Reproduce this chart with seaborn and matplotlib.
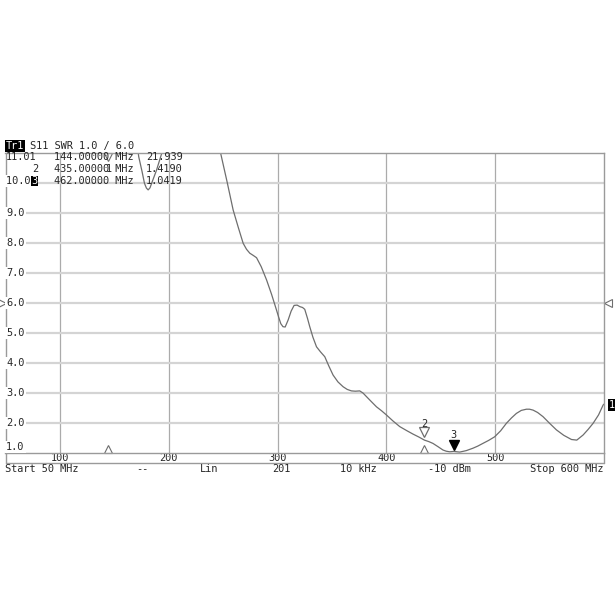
import matplotlib
matplotlib.use("Agg")
import matplotlib.pyplot as plt
import matplotlib.transforms as mtransforms
from matplotlib.lines import Line2D
import seaborn as sns
import pandas as pd

sns.set_style("white")
plt.rcParams['font.family'] = ['DejaVu Sans Mono', 'DejaVu Sans']

# S11 SWR trace (values above 11 are off-scale)
freq_mhz = [50, 100, 144, 165, 170, 172.4, 175.5, 177.7, 179.5, 181.1, 182.8, 184.8,
            188.8, 194, 200, 225, 247.6, 253.5, 259.2, 264.0, 268.4, 271.5, 274.5,
            277.5, 280.7, 285.0, 289.9, 294.5, 299.0, 301.0, 303.0, 305.0, 307.0,
            309.7, 312.5, 315.2, 318.0, 320.4, 323.0, 325.0, 327.5, 329.6, 332.5,
            335.8, 339.5, 343.4, 347.0, 351.0, 355.5, 360.2, 364.0, 367.9, 371.5,
            375.5, 378.5, 381.7, 386.0, 390.9, 395.5, 400.0, 406.0, 412.3, 418.5,
            424.5, 430.0, 435, 439.0, 442.8, 447.5, 452.0, 455.0, 458.2, 462,
            467.4, 473.5, 479.6, 484.0, 488.7, 494.0, 499.5, 505.0, 510.3, 515.0,
            519.5, 524.0, 528.7, 531.5, 534.8, 539.0, 544.0, 550.0, 556.3, 563.0,
            570.1, 575.0, 580.8, 585.5, 590.0, 595.0, 599.2, 600]
swr = [15.0, 18.0, 21.939, 14.0, 11.6, 10.87, 10.37, 9.98, 9.82, 9.76, 9.83, 10.03,
       10.42, 11.03, 12.5, 14.0, 11.0, 10.05, 9.09, 8.50, 7.98, 7.78, 7.65,
       7.58, 7.50, 7.20, 6.76, 6.28, 5.76, 5.52, 5.30, 5.20, 5.19,
       5.42, 5.72, 5.91, 5.92, 5.87, 5.84, 5.78, 5.48, 5.20, 4.85,
       4.53, 4.36, 4.20, 3.90, 3.59, 3.36, 3.20, 3.11, 3.06, 3.05,
       3.06, 2.99, 2.87, 2.71, 2.53, 2.40, 2.26, 2.06, 1.87, 1.74,
       1.62, 1.52, 1.419, 1.37, 1.31, 1.20, 1.09, 1.05, 1.03, 1.0419,
       1.02, 1.07, 1.15, 1.22, 1.31, 1.41, 1.53, 1.73, 1.98, 2.16,
       2.31, 2.41, 2.45, 2.45, 2.42, 2.34, 2.20, 1.98, 1.76, 1.58,
       1.44, 1.42, 1.59, 1.78, 1.98, 2.26, 2.59, 2.62]

marker_ids = ["1", "2", "3"]
marker_freq = [144.0, 435.0, 462.0]
marker_swr = [21.939, 1.4190, 1.0419]

x_ticks = [100, 200, 300, 400, 500]
y_grid = [2, 3, 4, 5, 6, 7, 8, 9, 10]
y_labels = ["9.0", "8.0", "7.0", "6.0", "5.0", "4.0", "3.0", "2.0", "1.0"]
status_labels = ["Start 50 MHz", "--", "Lin", "201", "10 kHz", "-10 dBm", "Stop 600 MHz"]

df = pd.DataFrame({"freq": freq_mhz, "swr": swr})

W = 615
fig = plt.figure(figsize=(6.15, 6.15), dpi=100)
top, bot, left, right = 152.7, 452.7, 5.5, 604.0
ax = fig.add_axes([left / W, 1 - bot / W, (right - left) / W, (bot - top) / W])


def px(x, y):
    return x / W, 1 - y / W


FS = 7.4
grey = "#6e6e6e"

sns.lineplot(data=df, x="freq", y="swr", ax=ax, color=grey, lw=0.9, sort=False)
ax.set_xlim(50, 600)
ax.set_ylim(1, 11)
ax.set_xlabel("")
ax.set_ylabel("")
ax.set_xticks(x_ticks)
ax.set_xticklabels([str(t) for t in x_ticks], fontsize=FS)
ax.set_yticks(y_grid)
ax.set_yticklabels([])
ax.tick_params(axis="both", length=0, pad=0.5)
ax.yaxis.grid(True, color="#d4d4d4", lw=1.6)
ax.xaxis.grid(True, color="#ababab", lw=0.9)
ax.set_axisbelow(True)
for s in ax.spines.values():
    s.set_color("#9a9a9a")
    s.set_linewidth(1.0)

# lower strip under the tick labels
strip_y = 463
for xs, ys in [([left, right], [strip_y, strip_y]),
               ([left, left], [bot, strip_y]),
               ([right, right], [bot, strip_y])]:
    fig.add_artist(Line2D([x / W for x in xs], [1 - y / W for y in ys],
                          color="#9a9a9a", lw=1.0))

# markers on the trace
up = lambda d: mtransforms.offset_copy(ax.transData, fig, x=0, y=d, units="dots")
ax.plot(marker_freq[1], marker_swr[1], marker="v", ms=7, mfc="white", mec=grey,
        mew=0.9, transform=up(8), clip_on=False)
ax.text(marker_freq[1], marker_swr[1], marker_ids[1], transform=up(16), fontsize=FS,
        ha="center", va="center")
ax.plot(marker_freq[2], marker_swr[2], marker="v", ms=7.5, color="black",
        transform=up(6), clip_on=False)
ax.text(marker_freq[2], marker_swr[2], marker_ids[2], transform=up(16), fontsize=FS,
        ha="center", va="center")

# marker position ticks on the baseline
base = mtransforms.blended_transform_factory(ax.transData, ax.transAxes)
for f in marker_freq[:2]:
    ax.plot(f, 0.013, marker="^", ms=6, mfc="white", mec=grey, mew=0.8,
            transform=base, clip_on=False)

# marker 1 is off-scale: clipped indicator at the top
ax.plot(marker_freq[0], 0.985, marker="v", ms=6, mfc="none", mec=grey, mew=0.8,
        transform=base, clip_on=False)

# reference level arrows and trace end flag
side = mtransforms.blended_transform_factory(ax.transAxes, ax.transData)
ax.plot(-0.006, 6.0, marker=">", ms=6, mfc="white", mec=grey, mew=0.8,
        transform=side, clip_on=False)
ax.plot(1.006, 6.0, marker="<", ms=6, mfc="white", mec=grey, mew=0.8,
        transform=side, clip_on=False)
ax.text(1.0125, swr[-2], "1", transform=side, fontsize=FS, color="white",
        ha="center", va="center", clip_on=False,
        bbox=dict(fc="black", ec="none", pad=0.6))

# header
fig.text(*px(6, 146), "Tr1", fontsize=FS, color="white", ha="left", va="center",
         bbox=dict(fc="black", ec="none", pad=0.5))
fig.text(*px(30, 146), "S11 SWR 1.0 / 6.0", fontsize=FS, ha="left", va="center")

# y scale labels
for i, lab in enumerate(y_labels):
    yv = 9 - i
    ypix = bot - (yv - 1) * 30
    if yv == 1:
        ypix = 447
    fig.text(*px(6, ypix), lab, fontsize=FS, ha="left", va="center",
             bbox=dict(fc="white", ec="none", pad=0.8))

# marker table
fig.text(*px(6, 157), "11.01", fontsize=FS, ha="left", va="center")
fig.text(*px(32, 169), marker_ids[1], fontsize=FS, ha="left", va="center")
fig.text(*px(6, 181), "10.0 ", fontsize=FS, ha="left", va="center",
         bbox=dict(fc="white", ec="none", pad=0.8))
fig.text(*px(31, 181), marker_ids[2], fontsize=FS, color="white", ha="left",
         va="center", bbox=dict(fc="black", ec="none", pad=0.3))
for row, (f, v) in enumerate(zip(marker_freq, marker_swr)):
    yy = 157 + 12 * row
    fig.text(*px(54, yy), f"{f:.5f} MHz", fontsize=FS, ha="left", va="center")
    fig.text(*px(146, yy), f"{v:.3f}" if v > 10 else f"{v:.4f}", fontsize=FS,
             ha="left", va="center")
fig.text(*px(109, 169), marker_ids[0], fontsize=FS, ha="center", va="center")

# status line
status_x = [5, 142, 209, 281, 358, 449, 603]
for i, (lab, xx) in enumerate(zip(status_labels, status_x)):
    ha = "left" if i == 0 else ("right" if i == len(status_labels) - 1 else "center")
    fig.text(*px(xx, 469), lab, fontsize=FS, ha=ha, va="center")

fig.savefig("out.png", dpi=100, facecolor="white")
